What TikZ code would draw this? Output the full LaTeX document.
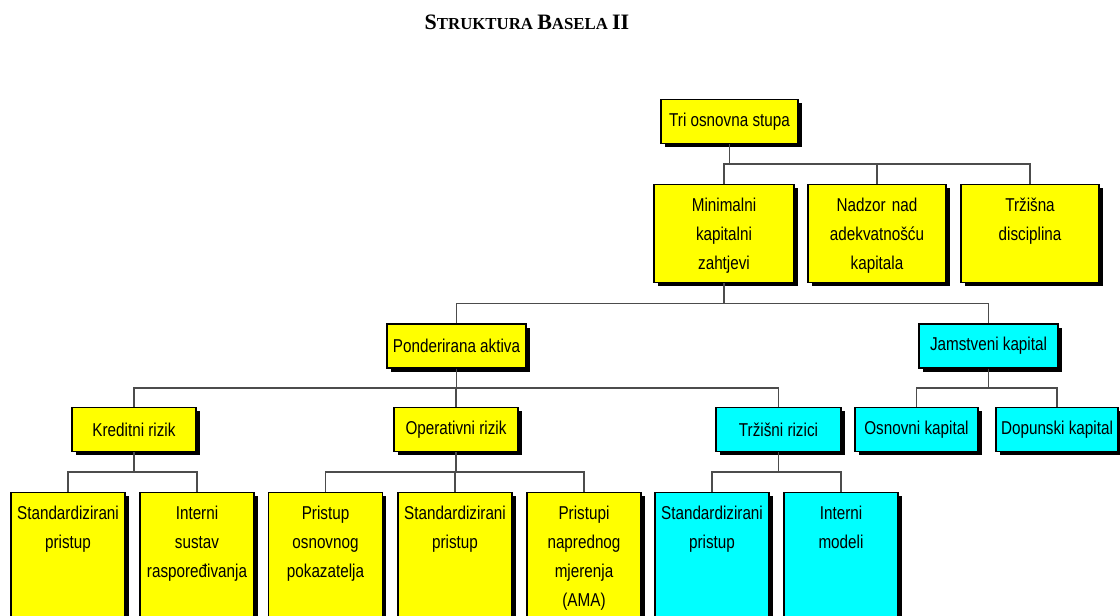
\documentclass[tikz,border=0pt]{standalone}
\usepackage{fontspec}
\usepackage{tikz}
\usetikzlibrary{calc}
\usetikzlibrary{shadows}
\usetikzlibrary{positioning}
\newfontfamily\narrowfont{Liberation Sans}[FakeStretch=0.82]
\newfontfamily\titlefont{Liberation Serif}
\newcommand{\unitfont}{\narrowfont\fontsize{18.6}{29}\selectfont}
\newcommand{\bigsc}[1]{{\fontsize{22}{22}\selectfont #1}}
\definecolor{pillaryellow}{RGB}{255,255,0}
\definecolor{pillarcyan}{RGB}{0,255,255}
\tikzset{unit/.style={draw=black,line width=1.3pt,font=\unitfont,align=center,
  drop shadow={shadow xshift=3.5pt,shadow yshift=-3.5pt,opacity=1,fill=black}},
 yel/.style={unit,fill=pillaryellow},
 cya/.style={unit,fill=pillarcyan},
 one/.style={minimum width=#1,minimum height=44pt,inner sep=0pt},
 tall/.style={anchor=north,text width=132pt,inner xsep=3pt,inner ysep=13pt,text height=14pt,text depth=58pt},
 leaf/.style={anchor=north,text width=110pt,inner xsep=2pt,inner ysep=13pt,text height=14pt,text depth=150pt},
 wire/.style={draw=black!70,line width=1.5pt}}

\begin{document}
\begin{tikzpicture}[x=1pt,y=-1pt]
\useasboundingbox (0,0) rectangle (1120,616);
\clip (0,0) rectangle (1120,616);

\node[font=\titlefont\bfseries\fontsize{16.8}{17}\selectfont, anchor=base] (title) at (527,29)
  {\bigsc{S}TRUKTURA \bigsc{B}ASELA \bigsc{II}};

% stupovi
\node[yel, one=137pt] (tri) at (729.5,121.5) {Tri osnovna stupa};
\node[yel, tall, minimum width=140pt] (min) at (724,184) {Minimalni\\kapitalni\\zahtjevi};
\node[yel, tall] (nad) at (877,184) {Nadzor nad\\adekvatnošću\\kapitala};
\node[yel, tall] (trz) at (1030,184) {Tržišna\\disciplina};

% kapitalni zahtjevi
\node[yel, one=139pt] (pon) at (456.5,346) {Ponderirana aktiva};
\node[cya, one=139pt] (jam) at (988.5,346) {Jamstveni kapital};

\node[yel, one=124pt] (kre) at (134,429.5) {Kreditni rizik};
\node[yel, one=124pt] (ope) at (456,429.5) {Operativni rizik};
\node[cya, one=125pt] (trr) at (778.5,429.5) {Tržišni rizici};
\node[cya, one=123pt] (osn) at (916.5,429.5) {Osnovni kapital};
\node[cya, one=122pt] (dop) at (1057,429.5) {Dopunski kapital};

% pristupi
\node[yel, leaf] (std1) at (68,492) {Standardizirani\\pristup};
\node[yel, leaf] (int1) at (197,492) {Interni\\sustav\\raspoređivanja};
\node[yel, leaf] (pri) at (325.5,492) {Pristup\\osnovnog\\pokazatelja};
\node[yel, leaf] (std2) at (455,492) {Standardizirani\\pristup};
\node[yel, leaf] (nap) at (584,492) {Pristupi\\naprednog\\mjerenja\\(AMA)};
\node[cya, leaf] (std3) at (712,492) {Standardizirani\\pristup};
\node[cya, leaf] (mod) at (841,492) {Interni\\modeli};

\foreach \p/\c in {tri/min, tri/nad, tri/trz, min/pon, min/jam,
  pon/kre, pon/ope, pon/trr, jam/osn, jam/dop,
  kre/std1, kre/int1, ope/pri, ope/std2, ope/nap, trr/std3, trr/mod}
  {
 \draw[wire] (\p.south) |- ($(\p.south)!0.5!(\c.north)$) -| (\c.north);
  }

\end{tikzpicture}
\end{document}
